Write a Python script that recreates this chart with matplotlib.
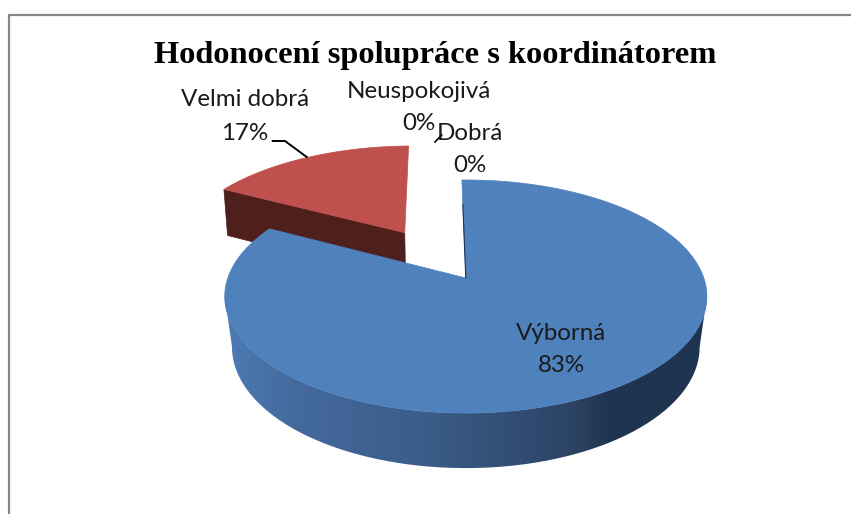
import numpy as np
import matplotlib
matplotlib.use("Agg")
import matplotlib.pyplot as plt
from matplotlib.colors import LinearSegmentedColormap
from matplotlib.patches import Polygon, PathPatch
from matplotlib.path import Path

# data
categories = ["Výborná", "Velmi dobrá", "Neuspokojivá", "Dobrá"]
values = [83, 17, 0, 0]
percent_labels = ["83%", "17%", "0%", "0%"]
chart_title = "Hodonocení spolupráce s koordinátorem"

# pie geometry in picture pixels
CX, CY = 465.8, 278.0
RX, RY = 238.0, 113.6
K = 0.159
START = -1.1
EXPLODE = {1: 0.5}
RED_SHIFT = -2.5


def project(px, py):
    s = 1 / (1 + K * py)
    return CX + RX * px * s, CY - RY * py * s


def lower(x, y, narrow=0.97):
    # bottom rim of the pie, a bit narrower and lower
    return CX + narrow * (x - CX), y + 38.5 + 0.04 * y


def slice_xy(a0, a1, off, shift=0.0):
    ang = np.radians(np.linspace(a0, a1, 400))
    mid = np.radians((a0 + a1) / 2)
    ox, oy = off * np.sin(mid), off * np.cos(mid)
    ax_, ay_ = project(ox, oy)
    rx_, ry_ = project(ox + np.sin(ang), oy + np.cos(ang))
    return (ax_ + shift, ay_), rx_ + shift, ry_


fig = plt.figure(figsize=(8.51, 5.14), dpi=100)
ax = fig.add_axes([0, 0, 1, 1])
ax.axis("off")

# chart border, only left and top fit in the picture
ax.plot([8.5, 8.5, 851], [514, 14.5, 14.5], color="#868686", lw=1.6, zorder=1)

sweeps = [v / sum(values) * 360 for v in values]
a_blue0, a_blue1 = START, START + sweeps[0]
a_red0, a_red1 = a_blue1, a_blue1 + sweeps[1]

# red slice
apex, rx_, ry_ = slice_xy(a_red0, a_red1, EXPLODE[1], RED_SHIFT)
left_top = (rx_[0], ry_[0])
face = [left_top, apex, lower(*apex, 0.985), lower(*left_top, 0.985)]
ax.add_patch(Polygon(face, closed=True, fc="#4F1F1C", ec="#4F1F1C", lw=0.5, zorder=2))
ax.add_patch(Polygon([apex] + list(zip(rx_, ry_)), closed=True, fc="#C0504D", ec="#C0504D",
                     lw=0.5, zorder=3))

# blue slice, side with a gradient then the top
apex_b, bx, by = slice_xy(a_blue0, a_blue1, 0)
i_r, i_l = np.argmax(bx), np.argmin(bx)
tx, ty = bx[i_r:i_l + 1], by[i_r:i_l + 1]
lx, ly = lower(tx, ty)
side = np.column_stack([np.r_[tx, lx[::-1]], np.r_[ty, ly[::-1]]])
grad = LinearSegmentedColormap.from_list(
    "side", [(0, "#4C7BB3"), (0.15, "#44699C"), (0.42, "#3A5C88"), (0.72, "#2B4364"),
             (0.79, "#203550"), (1, "#1F3450")])
im = ax.imshow(np.linspace(0, 1, 256).reshape(1, -1), cmap=grad, aspect="auto",
               extent=(225, 710, 480, 180), zorder=4)
clip = PathPatch(Path(side), transform=ax.transData, fc="none", ec="none")
ax.add_patch(clip)
im.set_clip_path(clip)
ax.add_patch(Polygon([apex_b] + list(zip(bx, by)), closed=True, fc="#4F81BD", ec="#4F81BD",
                     lw=0.5, zorder=5))
# dark sliver on the lower part of the cut edge
ax.plot([bx[0] + 0.25 * (apex_b[0] - bx[0]), apex_b[0]],
        [by[0] + 0.25 * (apex_b[1] - by[0]), apex_b[1]], color="#1F3450", lw=0.8, zorder=6)

# leader lines
ax.plot([272.7, 285, 306.7], [141, 141, 157], color="black", lw=1.4, zorder=7)
ax.plot([435, 441.7], [142, 135], color="black", lw=1.2, zorder=7)

ax.set_xlim(0, 851)
ax.set_ylim(514, 0)

# texts
ax.text(435, 56, chart_title, family="Liberation Serif", weight="bold", fontsize=23.3,
        ha="center", va="center", color="black", zorder=8)
label_pos = [(561, 333, 365), (245, 100, 133), (419, 92, 124), (470, 133, 165)]
for name, pct, (x, y1, y2) in zip(categories, percent_labels, label_pos):
    ax.text(x, y1, name, family="Lato", fontsize=17.4, ha="center", va="center",
            color="#1A1A1A", zorder=8)
    ax.text(x, y2, pct, family="Lato", fontsize=17.4, ha="center", va="center",
            color="#1A1A1A", zorder=8)

fig.savefig("out.png", dpi=100, facecolor="white")
